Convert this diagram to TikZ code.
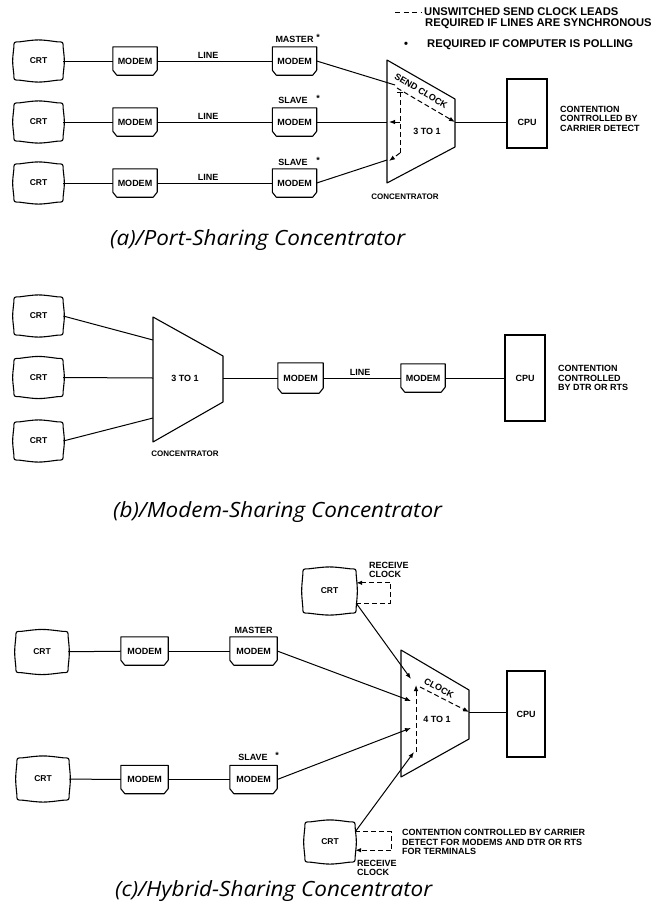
\documentclass[tikz,border=0pt]{standalone}
\usepackage{fontspec}
\setmainfont{Liberation Sans}
\newfontfamily\capfont[FakeStretch=1.07]{Open Sans}
\usetikzlibrary{calc,arrows.meta}
\tikzset{
  lbl/.style={font=\bfseries\fontsize{9}{9.6}\selectfont, inner sep=0pt, align=center},
  leg/.style={font=\bfseries\fontsize{11.2}{12}\selectfont, inner sep=0pt},
  crt/.style={minimum width=49pt, minimum height=38pt, inner sep=0pt, font=\bfseries\fontsize{8.5}{10}\selectfont},
  modem/.style={minimum width=44pt, minimum height=28pt, inner sep=0pt, font=\bfseries\fontsize{9}{10}\selectfont},
  cpubox/.style={draw, line width=1.1pt, inner sep=0pt, font=\bfseries\fontsize{9}{10}\selectfont},
  wire/.style={line width=1pt},
  clk/.style={line width=1pt, dash pattern=on 5pt off 3pt},
  tip/.style={-{Latex[length=6pt,width=4.5pt]}},
  captxt/.style={font=\capfont\itshape\fontsize{21}{24}\selectfont, anchor=west, inner sep=0pt},
  outline/.style={line width=1.1pt, line join=round},
}
\begin{document}
\begin{tikzpicture}[x=1pt,y=-1pt]
\useasboundingbox (0,0) rectangle (664,908);

% ---------------- legend ----------------
\coordinate (lg1) at (395,12); \coordinate (lg2) at (421,12);
\draw[clk, dash pattern=on 5pt off 3.5pt] (lg1) -- (lg2);
\node[leg, anchor=west] (leg1) at (424,12) {UNSWITCHED SEND CLOCK LEADS};
\node[leg, anchor=west] (leg2) at (425,23.5) {REQUIRED IF LINES ARE SYNCHRONOUS};
\node[leg] (legb) at (406,45) {•};
\node[leg, anchor=west] (leg3) at (427,45) {REQUIRED IF COMPUTER IS POLLING};

% ---------------- (a) ----------------
\foreach \i/\yy in {1/61,2/122,3/183}{
  \node[crt] (acrt\i) at (38.5,\yy) {CRT};
  \node[modem] (amod\i) at (135,\yy) {MODEM};
  \node[modem] (am\i) at (294.5,\yy) {MODEM};
  \node[lbl] (aline\i) at (208,{\yy-6}) {LINE};
  \draw[wire] (acrt\i) -- (amod\i);
  \draw[wire] (amod\i) -- (am\i);
}
\node[lbl] (amaster) at (294.5,39) {MASTER};
\node[lbl] (aast1) at (318,37) {*};
\node[lbl] (aslave2) at (293,100) {SLAVE};
\node[lbl] (aast2) at (318,98) {*};
\node[lbl] (aslave3) at (293,162) {SLAVE};
\node[lbl] (aast3) at (318,160) {*};

\coordinate (aTL) at (387,60); \coordinate (aTR) at (455,99);
\coordinate (aBR) at (455,147); \coordinate (aBL) at (387,183);
\draw[outline] (aTL) -- (aTR) -- (aBR) -- (aBL) -- cycle;
\coordinate (atip) at (455,122);
\coordinate (ain1) at (395,85); \coordinate (ain2) at (387,122); \coordinate (ain3) at (387,160);
\draw[wire] (am1.east) -- (ain1);
\draw[wire] (am2.east) -- (ain2);
\draw[wire] (am3.east) -- (ain3);
\coordinate (aclk) at (397,88);
\coordinate (abusL) at (397,92); \coordinate (abusR) at (403,92);
\coordinate (abus1) at (400,92); \coordinate (abus2) at (400,122); \coordinate (abus3) at (400,153);
\coordinate (aarr2) at (389,122); \coordinate (aarr3) at (389,161);
\draw[clk,tip] (aclk) -- (atip);
\draw[line width=1pt] (abusL) -- (abusR);
\draw[clk] (abus1) -- (abus3);
\draw[clk,tip] (abus2) -- (aarr2);
\draw[clk,tip] (abus3) -- (aarr3);
\node[lbl, rotate=-31] (asend) at (421,91) {SEND CLOCK};
\node[lbl] (a3to1) at (427,131) {3 TO 1};
\node[lbl, font=\bfseries\fontsize{8}{9}\selectfont] (aconc) at (405,197) {CONCENTRATOR};

\node[cpubox, minimum width=40pt, minimum height=69pt] (acpu) at (527,113.5) {};
\node[lbl] (acputxt) at (527,122) {CPU};
\draw[wire] (atip) -- (atip -| acpu.west);
\node[lbl, anchor=west, align=left] (acont) at (560,118.5) {CONTENTION\\CONTROLLED BY\\CARRIER DETECT};

\node[captxt] (capa) at (110,240) {(a)/Port-Sharing Concentrator};

% ---------------- (b) ----------------
\foreach \i/\yy in {1/316,2/377.5,3/441}{
  \node[crt] (bcrt\i) at (38.5,\yy) {CRT};
}
\coordinate (bTL) at (153,317); \coordinate (bTR) at (223,356);
\coordinate (bBR) at (223,402); \coordinate (bBL) at (153,442);
\draw[outline] (bTL) -- (bTR) -- (bBR) -- (bBL) -- cycle;
\coordinate (btip) at (223,378);
\coordinate (bin1) at (153,340); \coordinate (bin2) at (153,378); \coordinate (bin3) at (153,418);
\draw[wire] (bcrt1.east) -- (bin1);
\draw[wire] (bcrt2.east) -- (bin2);
\draw[wire] (bcrt3.east) -- (bin3);
\node[lbl] (b3to1) at (185,378) {3 TO 1};
\node[lbl, font=\bfseries\fontsize{8}{9}\selectfont] (bconc) at (185,454) {CONCENTRATOR};
\node[modem, minimum width=45pt, minimum height=30pt] (bmod1) at (300.5,378) {MODEM};
\node[modem] (bmod2) at (423,378) {MODEM};
\node[lbl] (bline) at (360,372) {LINE};
\node[cpubox, minimum width=40pt, minimum height=86pt] (bcpu) at (525,378) {CPU};
\draw[wire] (btip) -- (bmod1);
\draw[wire] (bmod1) -- (bmod2);
\draw[wire] (bmod2) -- (bcpu);
\node[lbl, anchor=west, align=left] (bcont) at (558,378) {CONTENTION\\CONTROLLED\\BY DTR OR RTS};

\node[captxt] (capb) at (113,512) {(b)/Modem-Sharing Concentrator};

% ---------------- (c) ----------------
\node[crt, minimum width=52pt, minimum height=41pt] (ccrt1) at (42,652) {CRT};
\node[crt, minimum width=52pt, minimum height=42pt] (ccrt2) at (43,779) {CRT};
\node[modem, minimum width=47pt] (cmod1) at (144.5,651) {MODEM};
\node[modem, minimum width=47pt] (cmod2) at (144.5,779.5) {MODEM};
\node[modem, minimum width=47pt] (cm1) at (253.5,651) {MODEM};
\node[modem, minimum width=47pt] (cm2) at (253.5,779.5) {MODEM};
\draw[wire] (ccrt1) -- (cmod1);
\draw[wire] (cmod1) -- (cm1);
\draw[wire] (ccrt2) -- (cmod2);
\draw[wire] (cmod2) -- (cm2);
\node[lbl] (cmaster) at (253.5,630) {MASTER};
\node[lbl] (cslave) at (253,757) {SLAVE};
\node[lbl] (cast) at (277,755) {*};

\node[crt, minimum width=53pt, minimum height=44pt] (ctcrt) at (329.5,591) {CRT};
\node[crt, minimum width=50pt, minimum height=40pt] (cbcrt) at (330,842) {CRT};

\coordinate (cTL) at (401,650); \coordinate (cTR) at (469,690);
\coordinate (cBR) at (469,739); \coordinate (cBL) at (401,777);
\draw[outline] (cTL) -- (cTR) -- (cBR) -- (cBL) -- cycle;
\coordinate (ctip) at (469,712);
\coordinate (cjt) at (411,679);
\coordinate (cj1) at (411,701);
\coordinate (cj2) at (411,728);
\coordinate (cjb) at (414,752);
\coordinate (ctout) at ($(ctcrt.south east)+(0,-10)$);
\coordinate (cbout) at ($(cbcrt.north east)+(0,10)$);
\draw[wire,tip] (ctout) -- (cjt);
\draw[wire,tip] (cm1.east) -- (cj1);
\draw[wire,tip] (cm2.east) -- (cj2);
\draw[wire,tip] (cbout) -- (cjb);
\coordinate (cbus1) at (416,685); \coordinate (cbus2) at (416,752);
\coordinate (cclk) at (420,687);
\draw[clk,tip] (cbus2) -- (cbus1);
\draw[clk,tip] (cclk) -- (ctip);
\node[lbl, rotate=-28] (cclock) at (439,688) {CLOCK};
\node[lbl] (c4to1) at (437,719) {4 TO 1};

\node[cpubox, minimum width=38pt, minimum height=86pt] (ccpu) at (526,714) {CPU};
\draw[wire] (ctip) -- (ctip -| ccpu.west);

% receive clock loops
\coordinate (ctl1) at ($(ctcrt.south east)+(34,-10)$);
\coordinate (ctl2) at ($(ctcrt.north east)+(34,14)$);
\coordinate (ctin) at ($(ctcrt.north east)+(0,14)$);
\draw[clk] (ctout) -- (ctl1) -- (ctl2);
\draw[clk,tip] (ctl2) -- (ctin);
\node[lbl, anchor=west, align=left] (crec1) at (369,570) {RECEIVE\\CLOCK};

\coordinate (cbl1) at ($(cbcrt.north east)+(36,10)$);
\coordinate (cbl2) at ($(cbcrt.south east)+(36,-12)$);
\coordinate (cbin) at ($(cbcrt.south east)+(0,-12)$);
\draw[clk] (cbout) -- (cbl1) -- (cbl2);
\draw[clk,tip] (cbl2) -- (cbin);
\node[lbl, anchor=west, align=left] (crec2) at (357,868) {RECEIVE\\CLOCK};
\node[lbl, anchor=west, align=left] (ccont) at (402,842) {CONTENTION CONTROLLED BY CARRIER\\DETECT FOR MODEMS AND DTR OR RTS\\FOR TERMINALS};

\node[captxt] (capc) at (115,891) {(c)/Hybrid-Sharing Concentrator};

% ---------------- outlines ----------------
\foreach \n in {acrt1,acrt2,acrt3,bcrt1,bcrt2,bcrt3,ccrt1,ccrt2,ctcrt,cbcrt}{
  \draw[outline] ($(\n.north west)+(6,0)$) .. controls ($(\n.north)+(0,-2.5)$) .. ($(\n.north east)+(-6,0)$)
    .. controls (\n.north east) .. ($(\n.north east)+(0,6)$)
    .. controls ($(\n.east)+(1.5,0)$) .. ($(\n.south east)+(0,-6)$)
    .. controls (\n.south east) .. ($(\n.south east)+(-6,0)$)
    .. controls ($(\n.south)+(0,2.5)$) .. ($(\n.south west)+(6,0)$)
    .. controls (\n.south west) .. ($(\n.south west)+(0,-6)$)
    .. controls ($(\n.west)+(-1.5,0)$) .. ($(\n.north west)+(0,6)$)
    .. controls (\n.north west) .. cycle;
}
\foreach \n in {amod1,amod2,amod3,am1,am2,am3,bmod1,bmod2,cmod1,cmod2,cm1,cm2}{
  \draw[outline] (\n.north west) -- (\n.north east) -- ($(\n.south east)+(0,-5)$)
    -- ($(\n.south east)+(-4,0)$) -- ($(\n.south west)+(4,0)$) -- ($(\n.south west)+(0,-5)$) -- cycle;
}
\end{tikzpicture}
\end{document}
